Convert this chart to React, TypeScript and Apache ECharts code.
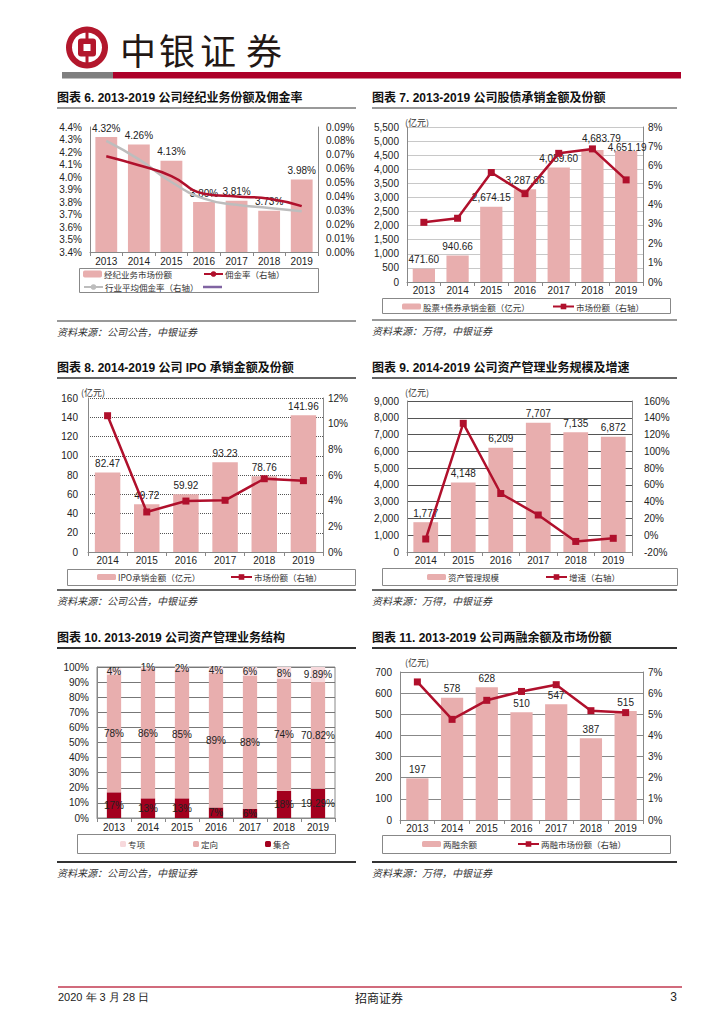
import React, { useEffect, useRef } from 'react';
import * as echarts from 'echarts';

const NUM = "'Liberation Sans Narrow', 'Liberation Sans', Arial, sans-serif";
const CJK = "'Noto Sans CJK SC', sans-serif";
const PINK = '#e8aeae';
const RED = '#b0102c';

const years7 = ['2013', '2014', '2015', '2016', '2017', '2018', '2019'];
const years6 = ['2014', '2015', '2016', '2017', '2018', '2019'];

// Chart 6
const brokerShare = [4.32, 4.26, 4.13, 3.8, 3.81, 3.73, 3.98];
const commissionRate = [0.069, 0.0625, 0.0547, 0.042, 0.04, 0.0384, 0.033];
const industryRate = [0.08, 0.0667, 0.0504, 0.0384, 0.034, 0.0317, 0.0293];
// Chart 7
const underwriting = [471.6, 940.66, 2674.15, 3287.86, 4059.6, 4683.79, 4651.19];
const underwritingShare = [3.08, 3.29, 5.65, 4.56, 6.64, 6.87, 5.27];
// Chart 8
const ipoAmount = [82.47, 49.72, 59.92, 93.23, 78.76, 141.96];
const ipoShare = [10.62, 3.12, 3.97, 4.03, 5.71, 5.56];
// Chart 9
const amScale = [1777, 4148, 6209, 7707, 7135, 6872];
const amGrowth = [-4.5, 133.4, 49.7, 24.1, -7.4, -3.7];
// Chart 10
const amSpecial = [4, 1, 2, 4, 6, 8, 9.89];
const amDirected = [78, 86, 85, 89, 88, 74, 70.82];
const amCollective = [17, 13, 13, 7, 6, 18, 19.29];
// Chart 11
const marginBal = [197, 578, 628, 510, 547, 387, 515];
const marginShare = [6.53, 4.76, 5.66, 6.08, 6.4, 5.17, 5.08];

// label nudges for chart 7 (style only, keyed by category index)
const chart7LabelNudge: Record<number, number[]> = { 5: [9, -3], 6: [1, 6] };

const thousands = (v: number, d = 0) =>
  v.toLocaleString('en-US', { minimumFractionDigits: d, maximumFractionDigits: d });

const axisLabel = (margin: number, formatter?: any) => ({
  fontFamily: NUM,
  fontSize: 10,
  color: '#222',
  margin,
  ...(formatter ? { formatter } : {}),
});

function catAxis(gridIndex: number, data: string[], margin: number) {
  return {
    type: 'category',
    gridIndex,
    data,
    axisLine: { show: true, onZero: false, lineStyle: { color: '#888', width: 1 } },
    axisTick: { show: true, length: 4, lineStyle: { color: '#888' } },
    axisLabel: axisLabel(margin),
    splitLine: { show: false },
  };
}

function valAxis(
  gridIndex: number,
  min: number,
  max: number,
  interval: number,
  formatter: any,
  margin: number,
  position: 'left' | 'right',
  split: any
) {
  return {
    type: 'value',
    gridIndex,
    min,
    max,
    interval,
    position,
    axisLine: { show: true, lineStyle: { color: '#888', width: 1 } },
    axisTick: { show: false },
    axisLabel: axisLabel(margin, formatter),
    splitLine: split ? { show: true, lineStyle: split } : { show: false },
  };
}

const barLabel = (formatter: any) => ({
  show: true,
  position: 'top',
  distance: 4,
  fontFamily: NUM,
  fontSize: 10,
  color: '#222',
  formatter: (p: any) => formatter(p.value),
});

function lg(name: string, left: number, cy: number, iw = 19, ih = 7) {
  return {
    data: [name],
    left,
    top: cy - 6,
    padding: 0,
    itemWidth: iw,
    itemHeight: ih,
    itemGap: 0,
    selectedMode: false,
    textStyle: { fontSize: 8.5, fontFamily: CJK, color: '#333', lineHeight: 12, padding: [0, 0, 0, -3] },
  };
}

const lineSeries = (name: string, data: number[], xi: number, yi: number) => ({
  type: 'line',
  name,
  data,
  xAxisIndex: xi,
  yAxisIndex: yi,
  symbol: 'rect',
  symbolSize: 7,
  lineStyle: { color: RED, width: 2.5 },
  itemStyle: { color: RED },
  z: 5,
});

const barSeries = (name: string, data: any[], xi: number, yi: number, width: string, label: any) => ({
  type: 'bar',
  name,
  data,
  xAxisIndex: xi,
  yAxisIndex: yi,
  barWidth: width,
  itemStyle: { color: PINK },
  label,
});

// ---------- graphics ----------
const graphics: any[] = [];
const LOGO = '#b3172c';
graphics.push(
  { type: 'ring', shape: { cx: 87, cy: 47.5, r: 21, r0: 15 }, style: { fill: LOGO } },
  { type: 'rect', shape: { x: 85.5, y: 29, width: 3, height: 37 }, style: { fill: LOGO } },
  { type: 'rect', shape: { x: 78, y: 38.5, width: 18, height: 18, r: 3 }, style: { fill: LOGO } },
  { type: 'rect', shape: { x: 83.5, y: 44, width: 7, height: 7 }, style: { fill: '#fff' } }
);
[
  ['中', 138],
  ['银', 177],
  ['证', 218],
  ['券', 264],
].forEach(([c, x]) =>
  graphics.push({
    type: 'text',
    style: { text: c, x, y: 48.5, align: 'center', verticalAlign: 'middle', fontSize: 36, fontFamily: CJK, fill: '#231815' },
  })
);
graphics.push(
  { type: 'rect', shape: { x: 62, y: 72, width: 51, height: 6.5 }, style: { fill: '#7f7f7f' } },
  { type: 'rect', shape: { x: 113, y: 72, width: 568, height: 6.5 }, style: { fill: '#ad0029' } }
);
// footer
graphics.push(
  { type: 'line', shape: { x1: 58, y1: 987, x2: 682, y2: 987 }, style: { stroke: '#c23a50', lineWidth: 1.5 } },
  { type: 'text', style: { text: '2020 年 3 月 28 日', x: 58, y: 997, verticalAlign: 'middle', fontSize: 11, fontFamily: NUM, fill: '#222' } },
  { type: 'text', style: { text: '招商证券', x: 379, y: 997, align: 'center', verticalAlign: 'middle', fontSize: 12, fontFamily: CJK, fill: '#222' } },
  { type: 'text', style: { text: '3', x: 677, y: 997, align: 'right', verticalAlign: 'middle', fontSize: 12, fontFamily: NUM, fill: '#222' } }
);

function panel(title: string, x1: number, x2: number, ty: number, uy: number, sy: number, source: string, ucolor: string) {
  graphics.push(
    {
      type: 'text',
      style: { text: title, x: x1, y: ty, verticalAlign: 'middle', fontSize: 12, fontWeight: 'bold', fontFamily: "'Liberation Sans', " + CJK, fill: '#111' },
    },
    { type: 'line', shape: { x1, y1: uy, x2, y2: uy }, style: { stroke: ucolor, lineWidth: 2 } },
    { type: 'line', shape: { x1, y1: sy, x2, y2: sy }, style: { stroke: ucolor, lineWidth: 2 } },
    {
      type: 'text',
      style: { text: source, x: x1, y: sy + 10, verticalAlign: 'middle', fontSize: 10, fontStyle: 'italic', fontFamily: CJK, fill: '#333' },
    }
  );
}
const SRC1 = '资料来源：公司公告，中银证券';
const SRC2 = '资料来源：万得，中银证券';
panel('图表 6. 2013-2019 公司经纪业务份额及佣金率', 57, 356, 98, 108, 321, SRC1, '#999');
panel('图表 7. 2013-2019 公司股债承销金额及份额', 372, 677, 98, 108, 320, SRC2, '#999');
panel('图表 8. 2014-2019 公司 IPO 承销金额及份额', 57, 356, 368, 378, 590, SRC1, '#666');
panel('图表 9. 2014-2019 公司资产管理业务规模及增速', 372, 677, 368, 378, 590, SRC2, '#666');
panel('图表 10. 2013-2019 公司资产管理业务结构', 57, 356, 638, 648, 862, SRC1, '#333');
panel('图表 11. 2013-2019 公司两融余额及市场份额', 372, 677, 638, 648, 862, SRC2, '#333');

// unit labels
[
  [405, 122],
  [81, 392],
  [405, 392],
  [405, 662],
].forEach(([x, y]) =>
  graphics.push({ type: 'text', style: { text: '(亿元)', x, y, verticalAlign: 'middle', fontSize: 9, fontFamily: CJK, fill: '#333' } })
);

// legend boxes
[
  [79, 268, 239, 24],
  [382, 298, 288, 15],
  [67, 569, 288, 16],
  [382, 568, 295, 17],
  [77, 834, 258, 19],
  [382, 835, 288, 18],
].forEach(([x, y, w, h]) =>
  graphics.push({ type: 'rect', shape: { x: x + 0.5, y: y + 0.5, width: w, height: h }, style: { fill: 'none', stroke: '#888', lineWidth: 1 } })
);
// purple legend line (chart 6, no label)
graphics.push({ type: 'line', shape: { x1: 203, y1: 287, x2: 222, y2: 287 }, style: { stroke: '#8064a2', lineWidth: 2.5 } });

const pct = (d: number) => (v: number) => v.toFixed(d) + '%';

const underwritingData = underwriting.map((v, i) =>
  chart7LabelNudge[i] ? { value: v, label: { offset: chart7LabelNudge[i] } } : v
);

const option: any = {
  animation: false,
  backgroundColor: '#fff',
  textStyle: { fontFamily: NUM },
  grid: [
    { left: 90, top: 127, width: 228, height: 125 },
    { left: 407, top: 127, width: 236, height: 155 },
    { left: 88, top: 398, width: 235, height: 154 },
    { left: 407, top: 401, width: 225, height: 151 },
    { left: 97, top: 667, width: 238, height: 151, show: true, borderColor: '#888', borderWidth: 1, backgroundColor: 'transparent' },
    { left: 400, top: 672, width: 243, height: 148 },
  ],
  xAxis: [
    catAxis(0, years7, 4),
    catAxis(1, years7, 3),
    catAxis(2, years6, 3),
    catAxis(3, years6, 3),
    catAxis(4, years7, 4),
    catAxis(5, years7, 3),
  ],
  yAxis: [
    valAxis(0, 3.4, 4.4, 0.1, pct(1), 8, 'left', null),
    valAxis(0, 0, 0.09, 0.01, pct(2), 8, 'right', null),
    valAxis(1, 0, 5500, 500, (v: number) => thousands(v), 8, 'left', { color: '#c8c8c8' }),
    valAxis(1, 0, 8, 1, pct(0), 5, 'right', null),
    valAxis(2, 0, 160, 20, (v: number) => String(v), 10, 'left', { color: '#555', type: 'dotted' }),
    valAxis(2, 0, 12, 2, pct(0), 5, 'right', null),
    valAxis(3, 0, 9000, 1000, (v: number) => thousands(v), 8, 'left', { color: '#555' }),
    valAxis(3, -20, 160, 20, pct(0), 12, 'right', null),
    valAxis(4, 0, 100, 10, pct(0), 8, 'left', { color: '#777' }),
    valAxis(5, 0, 700, 100, (v: number) => String(v), 8, 'left', { color: '#888' }),
    valAxis(5, 0, 7, 1, pct(0), 5, 'right', null),
  ],
  legend: [
    lg('经纪业务市场份额', 83, 274),
    lg('佣金率（右轴）', 203, 274),
    lg('行业平均佣金率（右轴）', 83, 287),
    lg('股票+债券承销金额（亿元）', 402, 306.5, 19, 6),
    lg('市场份额（右轴）', 552, 306.5, 21, 7),
    lg('IPO承销金额（亿元）', 97, 577, 19, 6),
    lg('市场份额（右轴）', 230, 577, 21, 7),
    lg('资产管理规模', 427, 577, 19, 6),
    lg('增速（右轴）', 545, 577, 21, 7),
    lg('专项', 120, 844, 6, 6),
    lg('定向', 193, 844, 6, 6),
    lg('集合', 265, 844, 6, 6),
    lg('两融余额', 422, 844, 19, 6),
    lg('两融市场份额（右轴）', 517, 844, 21, 7),
  ],
  series: [
    // chart 6
    barSeries('经纪业务市场份额', brokerShare, 0, 0, '67%', barLabel((v: number) => v.toFixed(2) + '%')),
    {
      type: 'line',
      name: '佣金率（右轴）',
      data: commissionRate,
      xAxisIndex: 0,
      yAxisIndex: 1,
      smooth: true,
      symbol: 'none',
      lineStyle: { color: RED, width: 2.5 },
      itemStyle: { color: RED },
      z: 5,
    },
    {
      type: 'line',
      name: '行业平均佣金率（右轴）',
      data: industryRate,
      xAxisIndex: 0,
      yAxisIndex: 1,
      smooth: true,
      symbol: 'none',
      lineStyle: { color: '#bdbdbd', width: 2.5 },
      itemStyle: { color: '#bdbdbd' },
      z: 4,
    },
    // chart 7
    barSeries('股票+债券承销金额（亿元）', underwritingData, 1, 2, '66%', barLabel((v: number) => thousands(v, 2))),
    lineSeries('市场份额（右轴）', underwritingShare, 1, 3),
    // chart 8
    barSeries('IPO承销金额（亿元）', ipoAmount, 2, 4, '65%', barLabel((v: number) => v.toFixed(2))),
    lineSeries('市场份额（右轴）', ipoShare, 2, 5),
    // chart 9
    barSeries('资产管理规模', amScale, 3, 6, '66%', barLabel((v: number) => thousands(v))),
    lineSeries('增速（右轴）', amGrowth, 3, 7),
    // chart 10
    ...[
      ['集合', amCollective, '#a3001e'],
      ['定向', amDirected, PINK],
      ['专项', amSpecial, '#f7d9dc'],
    ].map(([name, data, color]: any) => ({
      type: 'bar',
      name,
      data,
      xAxisIndex: 4,
      yAxisIndex: 8,
      stack: 'am',
      barWidth: '42%',
      itemStyle: { color },
      label: { show: true, position: 'inside', fontFamily: NUM, fontSize: 10, color: '#222', formatter: (p: any) => p.value + '%' },
    })),
    // chart 11
    barSeries('两融余额', marginBal, 5, 9, '64%', barLabel((v: number) => String(v))),
    lineSeries('两融市场份额（右轴）', marginShare, 5, 10),
  ],
  graphic: { elements: graphics },
};

export default function App() {
  const ref = useRef<HTMLDivElement>(null);
  useEffect(() => {
    const chart = echarts.init(ref.current!, undefined, { renderer: 'svg' });
    chart.setOption(option);
    return () => chart.dispose();
  }, []);
  return (
    <div
      ref={ref}
      style={{ position: 'absolute', left: 0, top: 0, width: 724, height: 1024, background: '#fff' }}
    />
  );
}
